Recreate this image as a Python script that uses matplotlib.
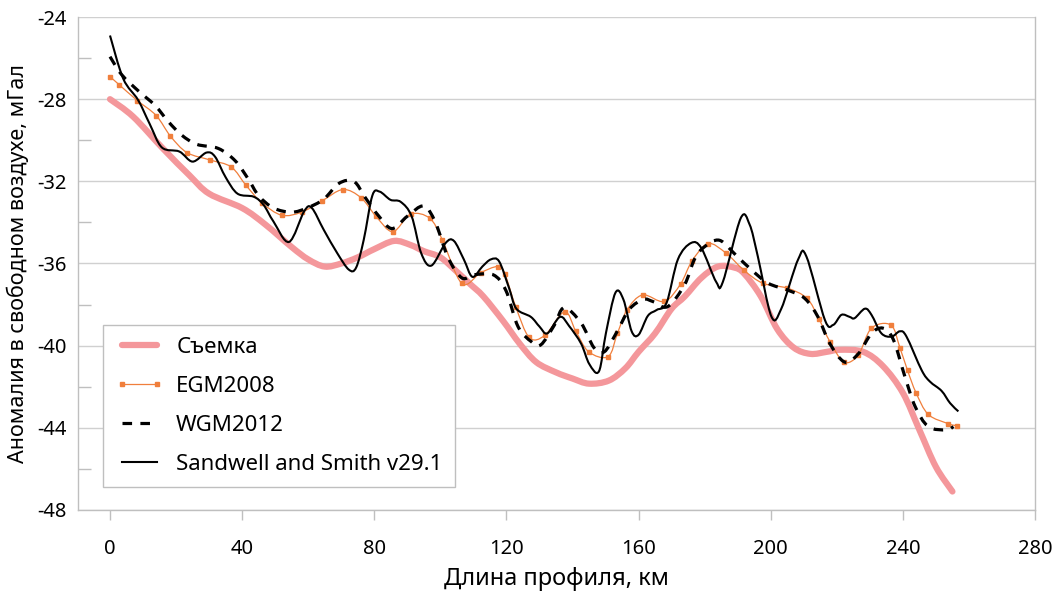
import matplotlib
matplotlib.use("Agg")
import matplotlib.pyplot as plt
import numpy as np
from matplotlib.path import Path
from matplotlib.patches import PathPatch
from matplotlib.lines import Line2D
from matplotlib.ticker import MultipleLocator

# survey profile (Съемка)
survey_km = [0, 7, 16, 24, 30, 40, 47, 55, 60, 65, 70, 75, 80, 86, 91, 95, 100, 105, 109, 113,
             119, 124, 129, 135, 140, 145, 151, 156, 160, 165, 170, 174, 179, 184, 189, 192, 197,
             202, 207, 212, 217, 221, 228, 234, 240, 245, 250, 255]
survey_val = [-28.0, -28.85, -30.4, -31.7, -32.6, -33.3, -34.1, -35.2, -35.8, -36.15, -36.0, -35.7,
              -35.3, -34.9, -35.1, -35.4, -35.7, -36.4, -37.0, -37.6, -38.8, -39.9, -40.8, -41.3,
              -41.6, -41.85, -41.7, -41.1, -40.3, -39.4, -38.2, -37.6, -36.7, -36.15, -36.2, -36.5,
              -37.6, -39.2, -40.1, -40.4, -40.3, -40.2, -40.3, -41.0, -42.3, -44.1, -45.9, -47.1]

# EGM2008
egm_km = [0, 2.8, 8.3, 14, 18.3, 23.3, 30.3, 36.7, 41.2, 46, 52, 58, 64.2, 70.5, 76, 80.5, 85.6,
          91, 96.8, 100.6, 106.5, 112.2, 117.3, 119.5, 122.8, 126.9, 131.6, 137.6, 141, 144.9,
          150.8, 153.6, 156.5, 161.2, 167.8, 172.7, 176.1, 181, 186.5, 191.9, 197.6, 205, 211,
          214.6, 217.9, 222.2, 226.5, 230.5, 236.4, 239.1, 241.4, 244, 247.7, 253.8, 256.3]
egm_val = [-26.9, -27.3, -28.07, -28.8, -29.8, -30.6, -30.96, -31.3, -32.2, -33.05, -33.65, -33.5,
           -32.95, -32.4, -32.8, -33.7, -34.45, -33.6, -33.8, -34.85, -36.97, -36.45, -36.15,
           -36.5, -38.1, -39.6, -39.5, -38.35, -39.3, -40.3, -40.53, -39.4, -38.26, -37.53,
           -37.85, -37.0, -35.9, -35.03, -35.5, -36.33, -36.96, -37.2, -37.7, -38.7, -39.8,
           -40.8, -40.45, -39.15, -39.0, -40.1, -41.2, -42.3, -43.35, -43.8, -43.9]

# WGM2012
wgm_km = [0, 3.5, 8.6, 13.6, 17.7, 21.7, 26.3, 32.8, 37.9, 41.9, 45, 49.5, 55, 59.6, 64.7, 69.3,
          73.8, 77.3, 81.4, 85.4, 90, 95, 98.5, 102.3, 106.5, 110.2, 116, 119.8, 123.5, 127.5,
          130.4, 134.5, 137.5, 142.6, 146.5, 149.6, 153.2, 157.2, 161.5, 164.3, 168.8, 173.9,
          176.9, 180, 184.5, 189.5, 194.1, 199.2, 205.2, 210.3, 214.3, 217.9, 222.4, 226.5,
          230.5, 234, 237.1, 240.6, 243.7, 247.7, 253.2, 255.3]
wgm_val = [-25.93, -26.8, -27.6, -28.3, -29.1, -29.75, -30.2, -30.4, -31.0, -31.9, -32.7, -33.3,
           -33.5, -33.3, -32.87, -32.1, -32.0, -32.8, -33.7, -34.3, -33.7, -33.2, -34.0, -35.7,
           -36.7, -36.55, -36.55, -37.3, -39.07, -39.8, -39.96, -39.0, -38.15, -38.9, -40.1,
           -40.3, -39.4, -38.23, -37.75, -37.85, -38.1, -37.04, -35.8, -35.18, -34.87, -35.6,
           -36.3, -36.96, -37.3, -37.7, -38.6, -39.9, -40.8, -40.4, -39.4, -39.15, -39.7, -41.5,
           -42.96, -43.94, -44.1, -43.94]

# Sandwell and Smith v29.1
ss_km = [0, 4, 8.5, 12, 15.7, 21, 25, 29.2, 31.8, 35, 38.6, 43.5, 46.5, 49.5, 54.2, 58.8, 61.1,
         64.7, 68.8, 72.3, 74.5, 76.8, 79.4, 81.6, 84.9, 88, 91.3, 94.2, 97.3, 101.6, 104.1,
         107.1, 109.7, 112.7, 115.3, 117.8, 120.8, 123, 127.4, 130, 132.4, 136.2, 139, 142.6,
         145.1, 148, 150.1, 153, 155.4, 157.9, 160, 162.8, 165.5, 168.5, 171.9, 175.9, 179,
         183.5, 185.5, 190.9, 193.6, 196.1, 200.2, 203.2, 208.3, 210.8, 216.4, 218.9, 221.4,
         223.9, 225.4, 228.5, 230.5, 233.5, 236.6, 239.1, 241.1, 245.7, 248.2, 251.7, 254.3, 256.8]
ss_val = [-24.9, -27.0, -28.04, -29.2, -30.35, -30.55, -31.04, -30.6, -30.8, -31.8, -32.6, -32.75,
          -33.15, -33.96, -34.95, -33.45, -33.3, -34.36, -35.5, -36.3, -36.2, -34.85, -32.7,
          -32.5, -32.9, -33.0, -33.7, -35.5, -36.1, -35.0, -34.9, -35.8, -36.65, -36.15, -35.8,
          -35.9, -37.2, -38.2, -38.6, -39.07, -39.4, -38.6, -39.05, -39.9, -40.9, -41.25, -39.4,
          -37.42, -37.75, -39.3, -39.47, -38.55, -38.26, -37.9, -35.8, -35.0, -35.25, -36.9,
          -36.9, -33.8, -34.1, -35.66, -38.58, -38.2, -35.8, -35.66, -38.75, -38.99, -38.5,
          -38.6, -38.66, -38.2, -38.5, -39.4, -39.56, -39.3, -39.56, -41.2, -41.75, -42.2,
          -42.8, -43.2]

labels = ['Съемка', 'EGM2008', 'WGM2012', 'Sandwell and Smith v29.1']
x_ticks = [0, 40, 80, 120, 160, 200, 240, 280]
y_ticks = [-48, -44, -40, -36, -32, -28, -24]


def smooth_path(x, y):
    # Excel-style smoothed line: bezier segments through the data points
    pts = np.column_stack([x, y]).astype(float)
    n = len(pts)
    verts = [pts[0]]
    codes = [Path.MOVETO]
    for i in range(n - 1):
        p0 = pts[max(i - 1, 0)]
        p1 = pts[i]
        p2 = pts[i + 1]
        p3 = pts[min(i + 2, n - 1)]
        verts += [p1 + (p2 - p0) / 6, p2 - (p3 - p1) / 6, p2]
        codes += [Path.CURVE4] * 3
    return Path(verts, codes)


plt.rcParams['font.family'] = ['Noto Sans', 'DejaVu Sans']
plt.rcParams['axes.unicode_minus'] = False

fig = plt.figure(figsize=(10.62, 5.93), dpi=100)
ax = fig.add_axes([0.0734, 0.14, 0.9012, 0.8313])

pink = '#F4979B'
orange = '#F07F3C'

ax.add_patch(PathPatch(smooth_path(survey_km, survey_val), fill=False, edgecolor=pink, lw=4.5,
                       capstyle='round', zorder=3))
ax.add_patch(PathPatch(smooth_path(egm_km, egm_val), fill=False, edgecolor=orange, lw=0.9, zorder=4))
ax.plot(egm_km, egm_val, linestyle='none', color=orange, marker='s', markersize=3.2, zorder=4)
ax.add_patch(PathPatch(smooth_path(wgm_km, wgm_val), fill=False, edgecolor='black', lw=2.3,
                       linestyle=(0, (3, 2.6)), zorder=5))
ax.add_patch(PathPatch(smooth_path(ss_km, ss_val), fill=False, edgecolor='black', lw=1.5, zorder=6))

ax.set_xlim(-9.7, 280)
ax.set_ylim(-48, -24)
ax.set_xticks(x_ticks)
ax.set_yticks(y_ticks)
ax.yaxis.set_minor_locator(MultipleLocator(2))

ax.yaxis.grid(True, which='major', color='#D0D0D0', lw=1)
ax.set_axisbelow(True)

for side in ['left', 'bottom', 'right']:
    ax.spines[side].set_color('#BFBFBF')
    ax.spines[side].set_linewidth(1)
ax.spines['top'].set_visible(False)

ax.tick_params(axis='y', which='major', length=0, pad=8, labelsize=14.5)
ax.tick_params(axis='y', which='minor', direction='in', length=9, color='#BFBFBF', width=1)
ax.tick_params(axis='x', which='major', direction='out', length=7, color='#BFBFBF', width=1,
               pad=14, labelsize=14.5)

ax.set_xlabel('Длина профиля, км', fontsize=17, labelpad=6)
ax.set_ylabel('Аномалия в свободном воздухе, мГал', fontsize=15.5, labelpad=6)

handles = [
    Line2D([], [], color=pink, lw=4.5, solid_capstyle='round'),
    Line2D([], [], color=orange, lw=0.9, marker='s', markersize=3.2),
    Line2D([], [], color='black', lw=2.3, linestyle=(0, (3, 2.6))),
    Line2D([], [], color='black', lw=1.5),
]
leg = ax.legend(handles, labels, loc='lower left', bbox_to_anchor=(0.026, 0.047), borderaxespad=0,
                fontsize=16, fancybox=False, edgecolor='#BFBFBF', framealpha=1, handlelength=2.2,
                handletextpad=0.55, labelspacing=0.8, borderpad=0.55, numpoints=2)
leg.get_frame().set_linewidth(1)

fig.savefig('out.png', dpi=100)
